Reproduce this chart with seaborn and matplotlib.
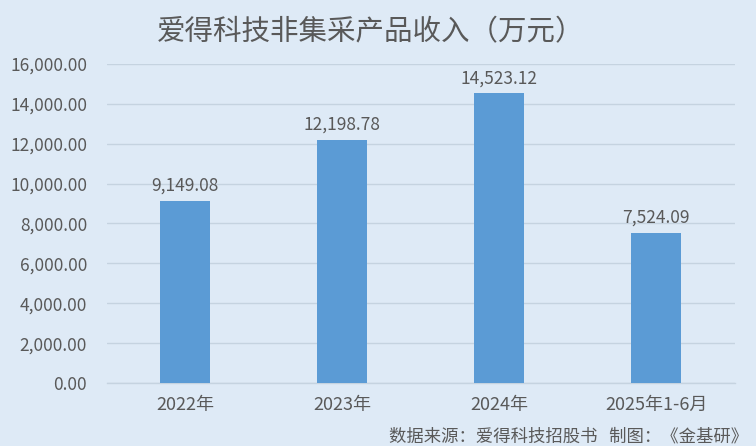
import pandas as pd
import seaborn as sns
import matplotlib.pyplot as plt
from matplotlib.ticker import MultipleLocator, FuncFormatter

# =============================================================================
# Data
# =============================================================================

periods = ["2022年", "2023年", "2024年", "2025年1-6月"]
revenue = [9149.08, 12198.78, 14523.12, 7524.09]

df = pd.DataFrame({"period": periods, "revenue": revenue})

# =============================================================================
# Style
# =============================================================================

bg_color = "#DEEAF6"
bar_color = "#5B9BD5"
text_color = "#595959"

sns.set_style("white")
plt.rcParams["font.family"] = ["Noto Sans CJK SC", "DejaVu Sans"]

fig = plt.figure(figsize=(7.56, 4.46), dpi=100, facecolor=bg_color)
ax = fig.add_axes([0.141, 0.141, 0.831, 0.716])
ax.set_facecolor(bg_color)

sns.barplot(
    data=df,
    x="period",
    y="revenue",
    order=periods,
    color=bar_color,
    saturation=1,
    width=0.32,
    linewidth=0,
    ax=ax,
    zorder=3
)

for i, v in enumerate(revenue):
    ax.text(i, v + 300, f"{v:,.2f}", ha="center", va="bottom",
            fontsize=12.5, color=text_color)

ax.set_ylim(0, 16000)
ax.yaxis.set_major_locator(MultipleLocator(2000))
ax.yaxis.set_major_formatter(FuncFormatter(lambda y, _: f"{y:,.2f}"))
ax.grid(axis="y", color="#C5D3E0", linewidth=1, zorder=0)
ax.set_axisbelow(True)

for side in ["top", "right", "left"]:
    ax.spines[side].set_visible(False)
ax.spines["bottom"].set_color("#C5D3E0")
ax.spines["bottom"].set_linewidth(1)

ax.tick_params(axis="y", length=0, labelsize=12.5, labelcolor=text_color, pad=14)
ax.tick_params(axis="x", length=0, labelsize=13, labelcolor=text_color, pad=9)
ax.set_xlabel("")
ax.set_ylabel("")

fig.text(0.49, 0.928, "爱得科技非集采产品收入（万元）", ha="center", va="center",
         fontsize=20.5, color=text_color)
fig.text(0.99, 0.022, "数据来源：爱得科技招股书   制图：《金基研》", ha="right",
         va="center", fontsize=12.5, color=text_color)

plt.savefig("out.png", dpi=100, facecolor=bg_color)
